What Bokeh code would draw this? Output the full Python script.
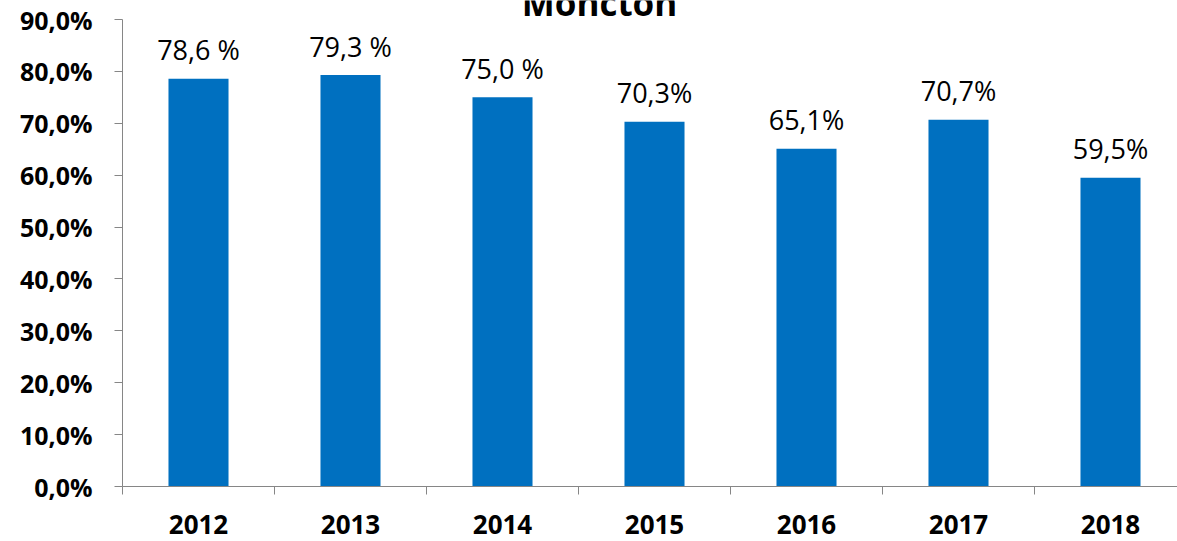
from bokeh.plotting import figure
from bokeh.models import Range1d, FixedTicker, ColumnDataSource, Label
from bokeh.core.properties import value
from bokeh.embed import file_html
from bokeh.resources import INLINE

years = ["2012", "2013", "2014", "2015", "2016", "2017", "2018"]
rates = [78.6, 79.3, 75.0, 70.3, 65.1, 70.7, 59.5]
rate_labels = ["78,6 %", "79,3 %", "75,0 %", "70,3%", "65,1%", "70,7%", "59,5%"]
y_ticks = [0, 10, 20, 30, 40, 50, 60, 70, 80, 90]
y_tick_labels = ["0,0%", "10,0%", "20,0%", "30,0%", "40,0%", "50,0%", "60,0%", "70,0%", "80,0%", "90,0%"]
title_text = "Moncton"

FONT = "Open Sans"
BLUE = "#0070C0"
GRAY = "#868686"

centers = [i + 0.5 for i in range(len(years))]
bounds = [float(i) for i in range(len(years) + 1)]

PX_PER_PCT = (486 - 19) / 90.0
y_top = 90 + 19 / PX_PER_PCT

p = figure(width=1177, height=541, output_backend="svg", toolbar_location=None,
           x_range=Range1d(0, (1177 - 122) / 152), y_range=Range1d(0, y_top),
           min_border_left=122, min_border_right=0, min_border_top=0, min_border_bottom=55)
p.outline_line_color = None
p.xgrid.visible = False
p.ygrid.visible = False
p.background_fill_color = "white"
p.border_fill_color = "white"

src = ColumnDataSource(dict(x=centers, top=rates, label=rate_labels))
p.vbar(x="x", top="top", width=0.395, bottom=0, source=src, fill_color=BLUE, line_color=None)
p.text(x="x", y="top", text="label", source=src, y_offset=-29,
       text_align="center", text_baseline="alphabetic",
       text_font=value(FONT), text_font_size="27px", text_color="black")

# x axis
xa = p.xaxis[0]
xa.ticker = FixedTicker(ticks=centers, minor_ticks=bounds)
xa.major_label_overrides = {c: y for c, y in zip(centers, years)}
xa.major_tick_out = 0
xa.major_tick_in = 0
xa.minor_tick_out = 8
xa.minor_tick_in = 0
xa.minor_tick_line_color = GRAY
xa.axis_line_color = GRAY
xa.major_label_text_font = FONT
xa.major_label_text_font_style = "bold"
xa.major_label_text_font_size = "26px"
xa.major_label_text_color = "black"
xa.major_label_standoff = 20

# y axis
ya = p.yaxis[0]
ya.ticker = FixedTicker(ticks=y_ticks, minor_ticks=[])
ya.bounds = (0, 90)
ya.major_label_overrides = {t: l for t, l in zip(y_ticks, y_tick_labels)}
ya.major_tick_out = 8
ya.major_tick_in = 0
ya.major_tick_line_color = GRAY
ya.axis_line_color = GRAY
ya.major_label_text_font = FONT
ya.major_label_text_font_style = "bold"
ya.major_label_text_font_size = "25px"
ya.major_label_text_color = "black"
ya.major_label_standoff = 22

title = Label(x=3.138, y=90 + 17 / PX_PER_PCT, text=title_text, text_align="center",
              text_baseline="alphabetic", text_font=FONT, text_font_style="bold",
              text_font_size="35px", text_color="black")
p.add_layout(title)

open("out.html", "w").write(file_html(p, INLINE))
